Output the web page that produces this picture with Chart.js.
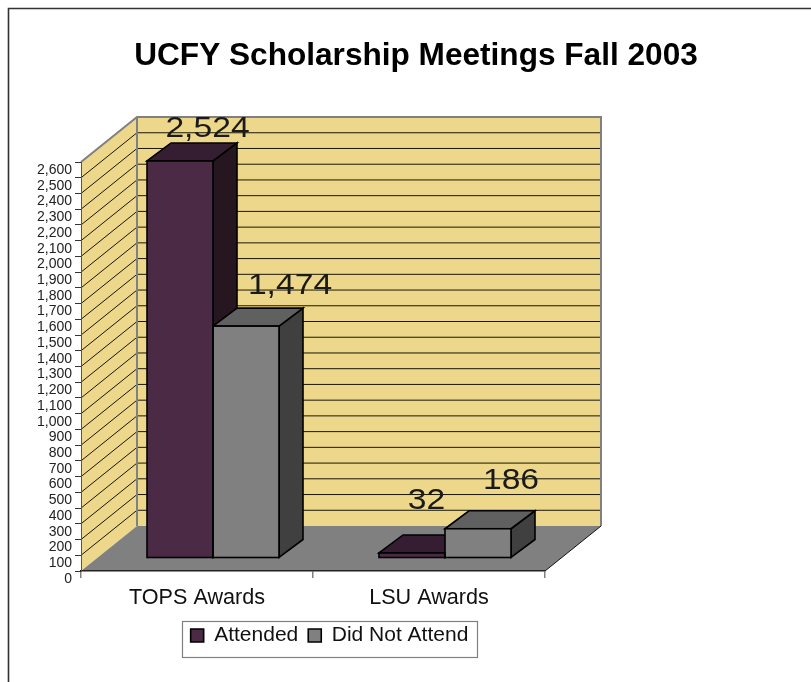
<!DOCTYPE html>
<html>
<head>
<meta charset="utf-8">
<style>html,body{margin:0;padding:0;background:#fff}canvas{display:block}</style>
<script src="https://cdn.jsdelivr.net/npm/chart.js@4"></script>
</head>
<body>
<canvas id="c" width="811" height="682"></canvas>
<script>
const titleText = 'UCFY Scholarship Meetings Fall 2003';
const categories = ['TOPS Awards', 'LSU Awards'];
const attended = [2524, 32];
const didNotAttend = [1474, 186];
const yMax = 2600;
const yStep = 100;

const WALL = '#EDD78A', FLOOR = '#808080', EDGE = '#808080';
const DEPTH = { x: 56, y: 45 };
const BAR_DEPTH = { x: 24, y: 18 };
const BAR_SHIFT = { x: 16, y: -13 };
const seriesFaces = [
  { top: '#351E31', side: '#261620' },
  { top: '#606060', side: '#404040' }
];
// label offset from the front-top centre of each bar: [series][category]
const labelOffsets = [
  [[27.5, -33], [14.5, -53]],
  [[44, -41], [33, -49]]
];

function poly(ctx, pts, fill, stroke, lw) {
  ctx.beginPath();
  pts.forEach((p, i) => i ? ctx.lineTo(p[0], p[1]) : ctx.moveTo(p[0], p[1]));
  ctx.closePath();
  if (fill) { ctx.fillStyle = fill; ctx.fill(); }
  if (stroke) { ctx.strokeStyle = stroke; ctx.lineWidth = lw; ctx.lineJoin = 'miter'; ctx.stroke(); }
}

const scene3d = {
  id: 'scene3d',
  afterLayout(chart) {
    chart.titleBlock.left = 0;
    chart.titleBlock.right = 832;
    const lg = chart.legend;
    lg.left = 179; lg.right = 480; lg.top = 615; lg.bottom = 656;
  },
  beforeDraw(chart) {
    const { ctx, chartArea: a, scales: { y } } = chart;
    const L = a.left, R = a.right, T = y.getPixelForValue(yMax), B = y.getPixelForValue(0);
    const dx = DEPTH.x, dy = DEPTH.y;
    ctx.save();
    // frame
    ctx.strokeStyle = '#333'; ctx.lineWidth = 1.6;
    ctx.beginPath(); ctx.moveTo(8.5, 682); ctx.lineTo(8.5, 8.5); ctx.lineTo(811, 8.5); ctx.stroke();
    // legend box
    ctx.strokeStyle = '#808080'; ctx.lineWidth = 1.2;
    ctx.strokeRect(182.5, 621.5, 295, 36);
    // walls
    poly(ctx, [[L + dx, T - dy], [R + dx, T - dy], [R + dx, B - dy], [L + dx, B - dy]], WALL);
    poly(ctx, [[L, B], [L, T], [L + dx, T - dy], [L + dx, B - dy]], WALL);
    // grid lines along side and back wall
    ctx.strokeStyle = '#1a1608'; ctx.lineWidth = 1;
    for (let v = yStep; v < yMax; v += yStep) {
      const p = y.getPixelForValue(v);
      ctx.beginPath();
      ctx.moveTo(L, p); ctx.lineTo(L + dx, p - dy); ctx.lineTo(R + dx, p - dy);
      ctx.stroke();
    }
    // floor
    poly(ctx, [[L, B], [R, B], [R + dx, B - dy], [L + dx, B - dy]], FLOOR);
    // wall edges
    ctx.strokeStyle = EDGE; ctx.lineWidth = 2;
    ctx.beginPath();
    ctx.moveTo(L, T); ctx.lineTo(L + dx, T - dy); ctx.lineTo(R + dx, T - dy); ctx.lineTo(R + dx, B - dy);
    ctx.moveTo(L + dx, T - dy); ctx.lineTo(L + dx, B - dy);
    ctx.stroke();
    // floor front-right edge
    ctx.strokeStyle = '#111'; ctx.lineWidth = 1;
    ctx.beginPath(); ctx.moveTo(R, B); ctx.lineTo(R + dx, B - dy); ctx.stroke();
    ctx.restore();
  },
  beforeDatasetsDraw(chart) {
    const { ctx } = chart;
    ctx.save();
    ctx.translate(BAR_SHIFT.x, BAR_SHIFT.y);
    const dx = BAR_DEPTH.x, dy = BAR_DEPTH.y;
    for (let c = 0; c < categories.length; c++) {
      for (let s = 0; s < 2; s++) {
        const el = chart.getDatasetMeta(s).data[c];
        const l = el.x - el.width / 2, r = el.x + el.width / 2, t = el.y, b = el.base;
        poly(ctx, [[r, t], [r + dx, t - dy], [r + dx, b - dy], [r, b]], seriesFaces[s].side, '#000', 1.6);
        poly(ctx, [[l, t], [l + dx, t - dy], [r + dx, t - dy], [r, t]], seriesFaces[s].top, '#000', 1.6);
      }
    }
  },
  afterDatasetsDraw(chart) {
    const { ctx } = chart;
    for (let c = 0; c < categories.length; c++) {
      for (let s = 0; s < 2; s++) {
        const el = chart.getDatasetMeta(s).data[c];
        ctx.strokeStyle = '#000'; ctx.lineWidth = 1.6;
        ctx.strokeRect(el.x - el.width / 2, el.y, el.width, el.base - el.y);
      }
    }
    ctx.restore();
    // data labels
    ctx.save();
    ctx.fillStyle = '#1a1a1a';
    ctx.textAlign = 'center'; ctx.textBaseline = 'middle';
    ctx.font = '29px "Liberation Sans"';
    [attended, didNotAttend].forEach((vals, s) => {
      vals.forEach((v, c) => {
        const el = chart.getDatasetMeta(s).data[c];
        const x = el.x + BAR_SHIFT.x + labelOffsets[s][c][0];
        const yy = el.y + BAR_SHIFT.y + labelOffsets[s][c][1];
        ctx.save();
        ctx.translate(x, yy);
        ctx.scale(1.16, 1);
        ctx.fillText(v.toLocaleString('en-US'), 0, 1);
        ctx.restore();
      });
    });
    ctx.restore();
  }
};

new Chart(document.getElementById('c'), {
  type: 'bar',
  data: {
    labels: categories,
    datasets: [
      { label: 'Attended', data: attended, backgroundColor: '#4B2A45', borderWidth: 0, clip: false,
        barPercentage: 1, categoryPercentage: 132 / 232 },
      { label: 'Did Not Attend', data: didNotAttend, backgroundColor: '#808080', borderWidth: 0, clip: false,
        barPercentage: 1, categoryPercentage: 132 / 232 }
    ]
  },
  options: {
    responsive: false,
    animation: false,
    layout: { autoPadding: false, padding: { left: 0, right: 266, top: 37, bottom: 25 } },
    scales: {
      x: {
        afterFit(s) { s.height = 45; },
        border: { color: '#222', width: 1.5 },
        grid: { drawOnChartArea: false, drawTicks: true, tickLength: 7, color: '#808080', lineWidth: 1.5 },
        ticks: { color: '#111', font: { family: '"Liberation Sans"', size: 21.6 }, padding: 7, maxRotation: 0 }
      },
      y: {
        min: 0, max: yMax,
        afterFit(s) { s.width = 81; },
        border: { color: '#555', width: 1 },
        grid: { drawOnChartArea: false, drawTicks: true, tickLength: 6, color: '#333', lineWidth: 1 },
        ticks: { stepSize: yStep, autoSkip: false, color: '#222', padding: 3, labelOffset: 8,
                 font: { family: '"Liberation Sans"', size: 14 } }
      }
    },
    plugins: {
      title: { display: true, text: titleText, color: '#000',
               font: { family: '"Liberation Sans"', size: 31.6, weight: 'bold' },
               padding: { top: 0, bottom: 87.1 } },
      legend: {
        display: true, position: 'bottom',
        labels: {
          color: '#111', boxWidth: 13, boxHeight: 13, padding: 10,
          font: { family: '"Liberation Sans"', size: 21 },
          generateLabels(chart) {
            return Chart.defaults.plugins.legend.labels.generateLabels(chart)
              .map(i => ({ ...i, lineWidth: 1.6, strokeStyle: '#000' }));
          }
        }
      },
      tooltip: { enabled: false }
    }
  },
  plugins: [scene3d]
});
</script>
</body>
</html>
